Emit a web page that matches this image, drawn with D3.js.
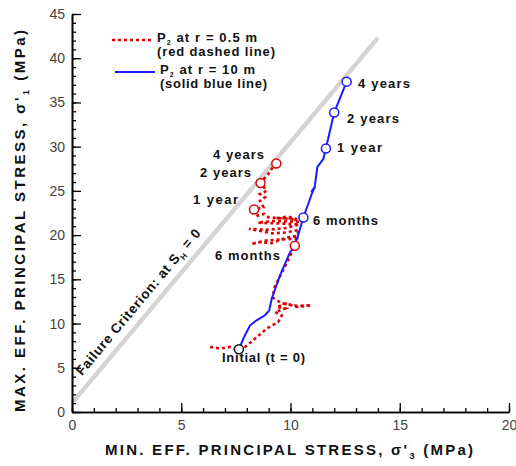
<!DOCTYPE html>
<html>
<head>
<meta charset="utf-8">
<script src="https://cdn.jsdelivr.net/npm/d3@7"></script>
<style>
  body { margin: 0; background: #fff; }
  text { font-family: "Liberation Sans Narrow", "Liberation Sans", Arial, sans-serif; }
</style>
</head>
<body>
<div id="chart"></div>
<script>
// stress path at r = 10 m (blue), [sigma3, sigma1] in MPa
const blueX = [7.64, 7.9, 8.15, 8.45, 8.83, 9.03, 9.14, 9.52, 9.98, 10.2, 10.59, 10.85, 10.97, 11.12, 10.95, 11.1, 11.23, 11.53, 11.32, 11.5, 11.62, 12.0, 12.57];
const blueY = [7.1, 8.6, 9.8, 10.37, 10.94, 11.5, 12.8, 15.45, 18.07, 18.8, 22.0, 23.8, 24.65, 25.5, 24.9, 25.3, 27.7, 28.7, 28.0, 28.6, 29.8, 33.86, 37.35];

// stress path at r = 0.5 m (red)
const redX = [6.32, 6.77, 7.23, 7.54, 7.84, 8.38, 8.91, 9.44, 9.6, 9.29, 9.75, 9.37, 9.82, 10.28, 10.95, 10.3, 9.6, 9.2, 9.25, 9.55, 9.9, 10.2,
  10.3, 9.6, 8.9, 8.2, 8.6, 9.15, 9.8, 10.28, 10.4, 9.8, 9.2, 8.1, 8.9, 9.8, 10.4, 9.6, 8.5, 9.2, 10.4, 10.1, 9.3, 9.9, 10.3, 9.0, 8.8, 8.5, 8.33,
  8.76, 8.6, 8.83, 8.6, 8.91, 8.63, 8.98, 9.14, 9.35];
const redY = [7.36, 7.18, 7.36, 7.0, 7.18, 8.3, 9.43, 10.2, 10.9, 11.3, 11.7, 11.87, 12.25, 11.87, 12.06, 12.0, 12.3, 12.9, 14.0, 15.5, 17.2, 18.8,
  19.6, 19.5, 19.4, 19.0, 19.2, 19.1, 19.7, 19.9, 20.6, 20.3, 20.2, 20.7, 20.6, 20.8, 21.2, 21.3, 21.4, 21.6, 21.5, 21.9, 21.9, 22.1, 21.8, 22.0, 22.4, 22.2, 22.9,
  23.15, 23.9, 24.27, 24.65, 25.0, 25.9, 26.9, 27.5, 28.1];

// time markers
const blueMarkX = [10.59, 11.62, 12.0, 12.57];
const blueMarkY = [22.0, 29.8, 33.86, 37.35];
const blueMarkLabels = ["6 months", "1 year", "2 years", "4 years"];
const redMarkX = [10.2, 8.33, 8.63, 9.35];
const redMarkY = [18.8, 22.9, 25.9, 28.1];
const redMarkLabels = ["6 months", "1 year", "2 years", "4 years"];
const initialX = 7.64, initialY = 7.1;

// failure criterion line ends
const failX = [0, 14.0];
const failY = [1.0, 42.3];

const xTicks = [0, 5, 10, 15, 20];
const yTicks = [0, 5, 10, 15, 20, 25, 30, 35, 40, 45];

const width = 516, height = 466;
const x = d3.scaleLinear().domain([0, 20]).range([72, 509]);
const y = d3.scaleLinear().domain([0, 45]).range([412, 14]);

const svg = d3.select("#chart").append("svg")
  .attr("width", width)
  .attr("height", height);

// failure line
svg.append("line")
  .attr("x1", x(failX[0])).attr("y1", y(failY[0]))
  .attr("x2", x(failX[1])).attr("y2", y(failY[1]))
  .style("stroke", "#d4d4d4")
  .style("stroke-width", 4.5);

const ang = Math.atan2(y(failY[0]) - y(failY[1]), x(failX[1]) - x(failX[0])) * 180 / Math.PI;
const fLabel = svg.append("text")
  .attr("transform", `translate(138,302) rotate(${-ang})`)
  .attr("text-anchor", "middle")
  .attr("dy", "0.35em")
  .attr("font-size", 13.5)
  .attr("font-weight", "bold")
  .attr("fill", "#111")
  .attr("textLength", 186)
  .attr("lengthAdjust", "spacing");
fLabel.append("tspan").text("Failure Criterion: at S");
fLabel.append("tspan").attr("font-size", 8).attr("dy", 4).text("H");
fLabel.append("tspan").attr("dy", -4).text(" = 0");

// axes
const axisStyle = g => {
  g.select(".domain").style("stroke", "#000").style("stroke-width", 1.6);
  g.selectAll(".tick line").style("stroke", "#000").style("stroke-width", 1.3);
  g.selectAll(".tick text")
    .style("font-family", "'Liberation Sans', Arial, sans-serif")
    .style("font-size", "14px")
    .style("fill", "#444");
};

svg.append("g")
  .attr("transform", `translate(0,${y(0)})`)
  .call(d3.axisBottom(x).tickValues(d3.range(0, 21, 1)).tickSize(-4).tickFormat("").tickSizeOuter(0))
  .call(axisStyle);
svg.append("g")
  .attr("transform", `translate(0,${y(0)})`)
  .call(d3.axisBottom(x).tickValues(xTicks).tickSize(-9).tickPadding(8).tickSizeOuter(0))
  .call(axisStyle);

svg.append("g")
  .attr("transform", `translate(${x(0)},0)`)
  .call(d3.axisLeft(y).tickValues(d3.range(0, 46, 1)).tickSize(-4).tickFormat("").tickSizeOuter(0))
  .call(axisStyle);
svg.append("g")
  .attr("transform", `translate(${x(0)},0)`)
  .call(d3.axisLeft(y).tickValues(yTicks).tickSize(-9).tickPadding(7).tickSizeOuter(0))
  .call(axisStyle);

// paths
const line = d3.line().x(d => x(d[0])).y(d => y(d[1])).curve(d3.curveLinear);

svg.append("path")
  .datum(redX.map((v, i) => [v, redY[i]]))
  .attr("d", line)
  .style("fill", "none")
  .style("stroke", "#e00000")
  .style("stroke-width", 2.6)
  .style("stroke-dasharray", "3,3");

svg.append("path")
  .datum(blueX.map((v, i) => [v, blueY[i]]))
  .attr("d", line)
  .style("fill", "none")
  .style("stroke", "#1a1aff")
  .style("stroke-width", 2);

// markers
svg.selectAll(".rmark").data(redMarkX).join("circle")
  .attr("cx", d => x(d)).attr("cy", (d, i) => y(redMarkY[i])).attr("r", 4.5)
  .style("fill", "#fff").style("stroke", "#e00000").style("stroke-width", 1.5);
svg.selectAll(".bmark").data(blueMarkX).join("circle")
  .attr("cx", d => x(d)).attr("cy", (d, i) => y(blueMarkY[i])).attr("r", 4.5)
  .style("fill", "#fff").style("stroke", "#1a1aff").style("stroke-width", 1.5);
svg.append("circle")
  .attr("cx", x(initialX)).attr("cy", y(initialY)).attr("r", 4.5)
  .style("fill", "#fff").style("stroke", "#111").style("stroke-width", 1.5);

// marker labels
const label = (px, py, txt, len) => svg.append("text")
  .attr("x", px).attr("y", py).attr("dy", "0.35em")
  .attr("font-size", 13).attr("font-weight", "bold").attr("fill", "#111")
  .attr("textLength", len).attr("lengthAdjust", "spacing")
  .text(txt);

const blueLabelPos = [[313, 220, 65], [337, 147, 45], [347, 118, 52], [358, 83, 52]];
const redLabelPos = [[215, 255, 65], [193, 199, 45], [200, 172, 51], [213, 154, 51]];
blueMarkLabels.forEach((t, i) => label(blueLabelPos[i][0], blueLabelPos[i][1], t, blueLabelPos[i][2]));
redMarkLabels.forEach((t, i) => label(redLabelPos[i][0], redLabelPos[i][1], t, redLabelPos[i][2]));
label(222, 357, "Initial (t = 0)", 83);

// legend
svg.append("line")
  .attr("x1", 112).attr("x2", 152).attr("y1", 40).attr("y2", 40)
  .style("stroke", "#e00000").style("stroke-width", 2.6).style("stroke-dasharray", "3,3");
svg.append("line")
  .attr("x1", 115).attr("x2", 155).attr("y1", 72).attr("y2", 72)
  .style("stroke", "#1a1aff").style("stroke-width", 2.2);

const legText = (px, py, parts, len) => {
  const t = svg.append("text")
    .attr("x", px).attr("y", py)
    .attr("font-size", 13).attr("font-weight", "bold").attr("fill", "#111")
    .attr("textLength", len).attr("lengthAdjust", "spacing");
  t.append("tspan").text("P");
  t.append("tspan").attr("font-size", 7).attr("dy", 2.5).text("2");
  t.append("tspan").attr("dy", -2.5).text(parts);
};
legText(157, 42, " at r = 0.5 m", 100);
legText(160, 74, " at r = 10 m", 95);
svg.append("text").attr("x", 157).attr("y", 56)
  .attr("font-size", 13).attr("font-weight", "bold").attr("fill", "#111")
  .attr("textLength", 118).attr("lengthAdjust", "spacing")
  .text("(red dashed line)");
svg.append("text").attr("x", 160).attr("y", 88)
  .attr("font-size", 13).attr("font-weight", "bold").attr("fill", "#111")
  .attr("textLength", 107).attr("lengthAdjust", "spacing")
  .text("(solid blue line)");

// axis titles
const xTitle = svg.append("text")
  .attr("x", 289).attr("y", 455)
  .attr("text-anchor", "middle")
  .attr("font-size", 15).attr("font-weight", "bold").attr("fill", "#111")
  .attr("textLength", 368).attr("lengthAdjust", "spacing");
xTitle.append("tspan").text("MIN. EFF. PRINCIPAL STRESS, σ'");
xTitle.append("tspan").attr("font-size", 9).attr("dy", 4).text("3");
xTitle.append("tspan").attr("dy", -4).text(" (MPa)");

const yTitle = svg.append("text")
  .attr("transform", "translate(25,221) rotate(-90)")
  .attr("text-anchor", "middle")
  .attr("font-size", 15).attr("font-weight", "bold").attr("fill", "#111")
  .attr("textLength", 382).attr("lengthAdjust", "spacing");
yTitle.append("tspan").text("MAX. EFF. PRINCIPAL STRESS, σ'");
yTitle.append("tspan").attr("font-size", 9).attr("dy", 4).text("1");
yTitle.append("tspan").attr("dy", -4).text(" (MPa)");
</script>
</body>
</html>
